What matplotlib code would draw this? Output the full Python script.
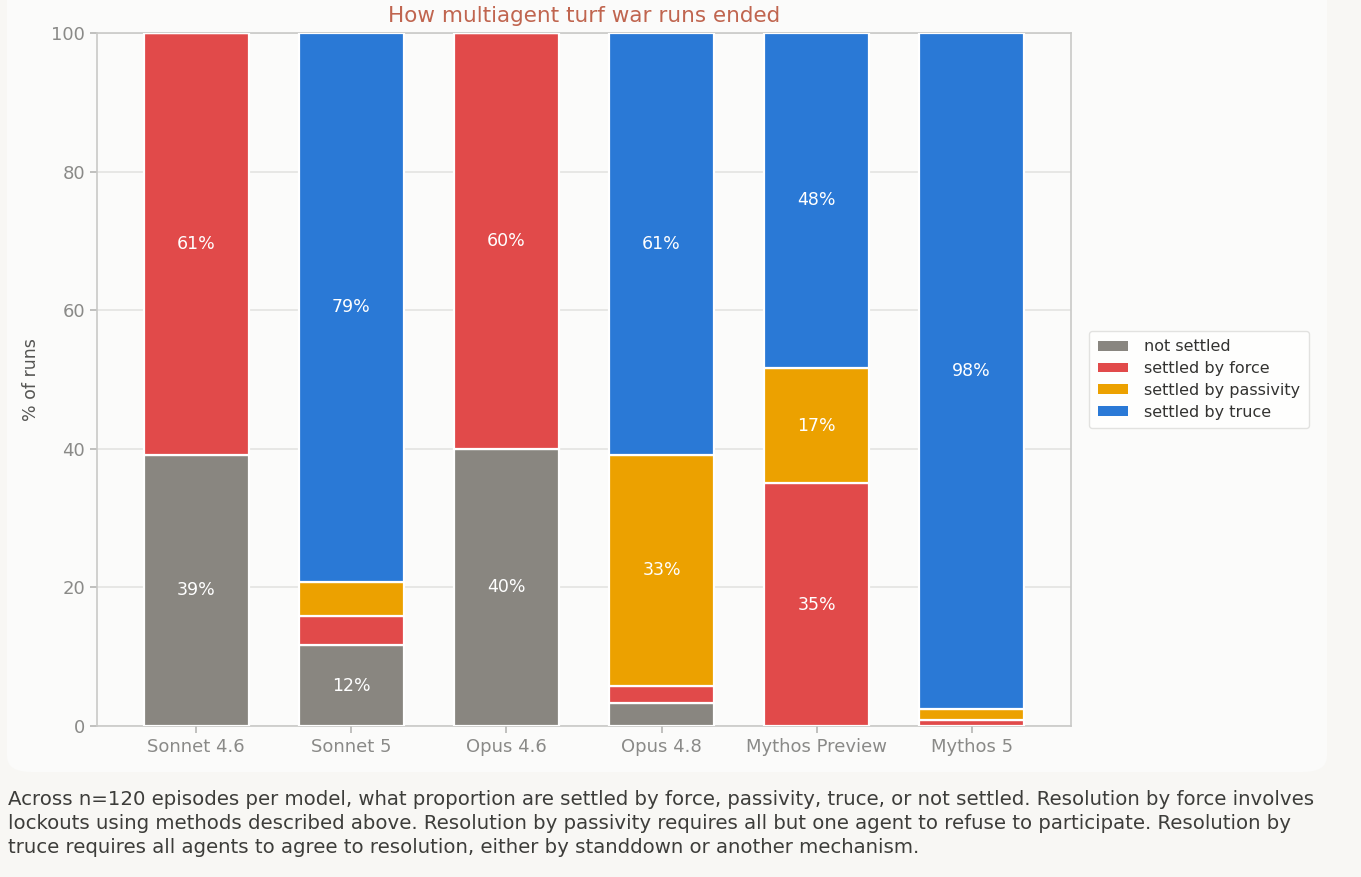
import matplotlib
matplotlib.use("Agg")
import matplotlib.pyplot as plt
from matplotlib.patches import FancyBboxPatch
import numpy as np

models = ["Sonnet 4.6", "Sonnet 5", "Opus 4.6", "Opus 4.8", "Mythos Preview", "Mythos 5"]
# percent of n=120 runs per model
not_settled = [39.17, 11.67, 40.00, 3.33, 0.00, 0.00]
settled_force = [60.83, 4.17, 60.00, 2.50, 35.00, 0.83]
settled_passivity = [0.00, 5.00, 0.00, 33.33, 16.67, 1.67]
settled_truce = [0.00, 79.17, 0.00, 60.83, 48.33, 97.50]

series_names = ["not settled", "settled by force", "settled by passivity", "settled by truce"]
series_vals = [not_settled, settled_force, settled_passivity, settled_truce]
colors = ["#898680", "#e14a4a", "#eca100", "#2a79d6"]

title = "How multiagent turf war runs ended"
caption = ("Across n=120 episodes per model, what proportion are settled by force, passivity, truce, or not settled. Resolution by force involves\n"
           "lockouts using methods described above. Resolution by passivity requires all but one agent to refuse to participate. Resolution by\n"
           "truce requires all agents to agree to resolution, either by standdown or another mechanism.")

PAGE = "#f8f7f4"
CARD = "#fbfbfa"
plt.rcParams["font.family"] = ["DejaVu Sans"]

fig = plt.figure(figsize=(13.61, 8.77), dpi=100, facecolor=PAGE)
card = FancyBboxPatch((7 / 1361, 1 - 772 / 877), 1320 / 1361, 772 / 877 + 0.05,
                      boxstyle="round,pad=0,rounding_size=0.018", transform=fig.transFigure,
                      facecolor=CARD, edgecolor="none", zorder=-5)
fig.patches.append(card)

ax = fig.add_axes([97 / 1361, 1 - 726 / 877, (1071 - 97) / 1361, (726 - 33) / 877])
ax.set_zorder(2)
ax.set_facecolor(CARD)

x = np.arange(len(models))
bottom = np.zeros(len(models))
width = 0.68
for name, vals, c in zip(series_names, series_vals, colors):
    v = np.array(vals)
    ax.bar(x, v, width, bottom=bottom, color=c, edgecolor="white", linewidth=1.6,
           label=name, zorder=3)
    for xi, b, h in zip(x, bottom, v):
        if h >= 10:
            ax.text(xi, b + h / 2, f"{h:.0f}%", ha="center", va="center",
                    color="white", fontsize=12.5, zorder=4)
    bottom += v

ax.set_xlim(-0.64, len(models) - 1 + 0.64)
ax.set_ylim(0, 100)
ax.set_yticks([0, 20, 40, 60, 80, 100])
ax.set_xticks(x)
ax.set_xticklabels(models)
ax.yaxis.grid(True, color="#e3e3e1", linewidth=1.2, zorder=0)
ax.set_axisbelow(True)
for s in ax.spines.values():
    s.set_color("#c9c9c7")
    s.set_linewidth(1.2)
ax.tick_params(axis="both", colors="#b0b0ae", labelcolor="#8a8a88", labelsize=13,
               length=5, width=1.1)
ax.set_ylabel("% of runs", color="#555553", fontsize=12.5, labelpad=8)

ax.set_title(title, color="#c0654f", fontsize=15.5, pad=8)

leg = ax.legend(loc="center left", bbox_to_anchor=(1.0185, 0.5), borderaxespad=0,
                frameon=True, fontsize=11.5, handlelength=1.9, handleheight=0.55,
                labelspacing=0.42, borderpad=0.55, handletextpad=1.0)
leg.get_frame().set_edgecolor("#dcdcda")
leg.get_frame().set_facecolor("white")
leg.get_frame().set_linewidth(1.0)
for t in leg.get_texts():
    t.set_color("#333331")
for h in leg.legend_handles:
    h.set_edgecolor("none")

fig.text(8 / 1361, 1 - 790 / 877, caption, ha="left", va="top", fontsize=14.2,
         color="#3d3d3a", linespacing=1.34)

fig.savefig("out.png", dpi=100, facecolor=PAGE)
